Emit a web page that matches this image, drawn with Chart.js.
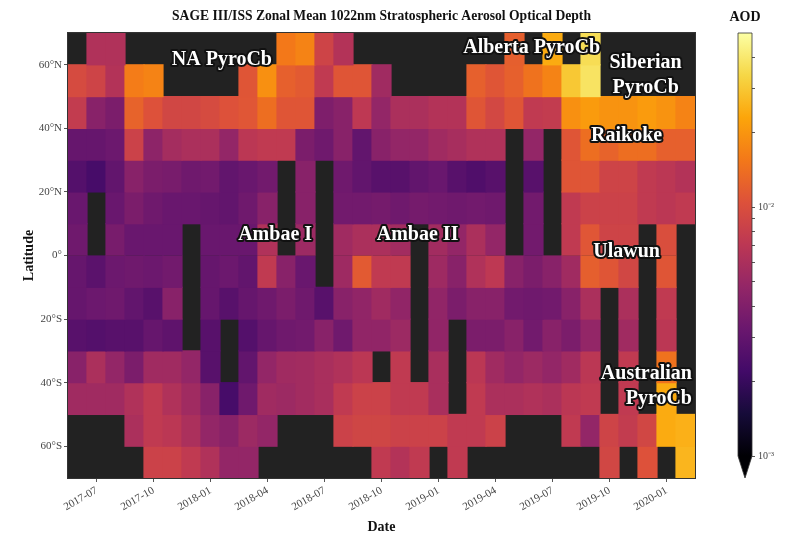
<!DOCTYPE html>
<html>
<head>
<meta charset="utf-8">
<script src="https://cdn.jsdelivr.net/npm/chart.js@4.4.1/dist/chart.umd.min.js"></script>
<style>
  html, body { margin: 0; padding: 0; background: #fff; }
  #wrap { position: relative; width: 794px; height: 548px; }
  #main { position: absolute; left: 0; top: 0; }
  #cbar { position: absolute; left: 700px; top: 0; }
</style>
</head>
<body>
<div id="wrap">
  <canvas id="main" width="794" height="548"></canvas>
  <canvas id="cbar" width="94" height="548"></canvas>
</div>
<script>
// monthly columns
const months = [
  "2017-06", "2017-07", "2017-08", "2017-09", "2017-10", "2017-11", "2017-12",
  "2018-01", "2018-02", "2018-03", "2018-04", "2018-05", "2018-06", "2018-07",
  "2018-08", "2018-09", "2018-10", "2018-11", "2018-12", "2019-01", "2019-02",
  "2019-03", "2019-04", "2019-05", "2019-06", "2019-07", "2019-08", "2019-09",
  "2019-10", "2019-11", "2019-12", "2020-01", "2020-02"
];

// 10 degree latitude bands (top edge of each band)
const latTops = [70, 60, 50, 40, 30, 20, 10, 0, -10, -20, -30, -40, -50, -60];
const latTicks = [-60, -40, -20, 0, 20, 40, 60];

// zonal mean AOD in units of 1e-3, null = no data
const n = null;
const aod65N = [n, 6.3, 6.3, n, n, n, n, n, n, n, n, 15.5, 17, 8.6, 6.5, n, n, n, n, n, n, n, n, 12, n, 24, n, 36, n, n, n, n, n];
const aod55N = [9.5, 8.6, 6.5, 16, 17, n, n, n, n, 10.9, 19, 12.2, 11.5, 7.4, 10.9, 10.9, 5.4, n, n, n, n, 12.2, 10.9, 12.2, 14.5, 17, 30, 38, n, n, n, n, n];
const aod45N = [7.6, 4.3, 3.8, 12.5, 10.5, 9, 9, 9.5, 10.5, 11, 14, 10.9, 10.9, 3.9, 4.3, 7.2, 4.8, 6, 6, 6.5, 6.5, 10.9, 9.2, 10.9, 7.4, 7.6, 19, 21, 19.5, 19.5, 21, 19.5, 17];
const aod35N = [3.1, 3.1, 3.3, 8.4, 4.5, 5.6, 6, 6, 4.8, 7, 7.4, 7.4, 3.8, 3.4, 4.3, 3.0, 4.3, 4.8, 4.8, 5.4, 5.8, 6.3, 6.3, n, 4.8, n, 10.9, 14, 12.5, 14, 14, 12.2, 12.2];
const aod25N = [2.6, 2.3, 3.0, 4.3, 3.8, 3.7, 3.4, 3.5, 3.0, 3.2, 3.5, n, 4.3, n, 3.4, 3.0, 2.7, 2.7, 3.0, 3.2, 2.7, 2.5, 2.7, n, 2.7, n, 10.9, 10.9, 8.6, 8.6, 7.4, 7, 6.5];
const aod15N = [3.2, n, 3.2, 3.8, 3.4, 3.2, 3.2, 3.1, 3.0, 3.4, 4.3, n, 4.3, n, 3.5, 3.5, 3.6, 3.4, 3.6, 3.5, 3.4, 3.5, 3.4, n, 3.5, n, 7.4, 8.4, 8.4, 8.4, 7.4, 7, 7.4];
const aod5N  = [3.4, n, 3.7, 3.2, 3.2, 3.2, n, 3.2, 3.2, 3.2, 6.3, n, 5.2, n, 5.4, 6, 6, 5.5, n, 5.5, 4.8, 6, 4.8, n, 3.5, n, 7.4, 11, 8.6, 8.6, n, 10, n];
const aod5S  = [3.1, 2.8, 3.3, 3.4, 3.3, 3.5, n, 3.1, 3.3, 3.0, 7.4, 4.3, 3.2, n, 5.3, 11.5, 7.4, 7.4, n, 5.3, 4.3, 6.3, 7.2, 4.3, 3.8, 4.3, 5.4, 12, 10.9, 9, n, 10.9, n];
const aod15S = [3.1, 3.3, 3.4, 3.0, 2.7, 4.3, n, 3.1, 2.7, 3.1, 3.4, 3.8, 3.4, 2.7, 4.3, 4.7, 5.4, 4.7, n, 4.7, 3.8, 4.3, 4.3, 3.5, 3.4, 3.5, 4.3, 6, n, 6, n, 7.4, n];
const aod25S = [2.7, 2.6, 2.7, 2.7, 3.1, 2.9, n, 2.7, n, 2.6, 3.1, 3.4, 3.5, 4.3, 3.4, 4.7, 4.7, 5.2, n, 4.7, n, 3.8, 3.8, 4.3, 3.5, 4.3, 3.8, 4.8, n, 5.4, n, 7, n];
const aod35S = [4.3, 6, 4.8, 3.8, 5.4, 5.4, 4.8, 2.7, n, 3.0, 4.8, 5.4, 5.5, 5.9, 6.3, 7, n, 7.4, n, 5.9, n, 7, 5.4, 4.8, 5.2, 4.8, 5.4, 7, n, 7.4, n, 14.5, n];
const aod45S = [5.4, 5.4, 5.4, 6.3, 7.4, 6.3, 5.4, 4.3, 2.3, 3.4, 5.4, 5.2, 5.5, 5.9, 7.4, 8.4, 8.4, 7.4, 7.4, 5.9, n, 7.4, 6, 6, 6.3, 6, 7, 7.4, n, 7.4, n, 24, n];
const aod55S = [n, n, n, 6, 7.4, 7, 6, 4.8, 4.3, 5.2, 4.8, n, n, n, 8.4, 8.8, 8.8, 8.4, 8.4, 8.4, 7.4, 7.4, 8.4, n, n, n, 7.4, 4.8, 8.6, 7.6, 9, 24, 25];
const aod65S = [n, n, n, n, 8.4, 8.4, 7.4, 6.3, 4.8, 4.8, n, n, n, n, n, n, 7.4, 6.5, 7.4, n, 7.4, n, n, n, n, n, n, n, 9, n, 10.5, n, 26];

const bands = [aod65N, aod55N, aod45N, aod35N, aod25N, aod15N, aod5N, aod5S, aod15S, aod25S, aod35S, aod45S, aod55S, aod65S];

const AOD_UNIT = 1e-3;
const AOD_MIN = 1e-3;
const AOD_MAX = 5e-2;
const cbarTicks = [0.001, 0.002, 0.003, 0.004, 0.005, 0.006, 0.007, 0.008, 0.009, 0.01, 0.02, 0.03, 0.04];

// event annotations: month index / latitude of the text anchor
const events = [
  { lines: ["NA PyroCb"], x: 7.6, lat: 61.5, align: "center" },
  { lines: ["Alberta PyroCb"], x: 23.9, lat: 65.3, align: "center" },
  { lines: ["Siberian", "PyroCb"], x: 29.9, lat: 56.6, align: "center" },
  { lines: ["Raikoke"], x: 28.9, lat: 37.6, align: "center" },
  { lines: ["Ambae I"], x: 10.4, lat: 6.5, align: "center" },
  { lines: ["Ambae II"], x: 17.9, lat: 6.5, align: "center" },
  { lines: ["Ulawun"], x: 28.9, lat: 1.1, align: "center" },
  { lines: ["Australian", "PyroCb"], x: 32.34, lat: -41.2, align: "right" }
];

// inferno colormap
const INFERNO = ["#000004", "#160b39", "#420a68", "#6a176e", "#932667", "#bc3754",
                 "#dd513a", "#f37819", "#fca50a", "#f6d746", "#fcffa4"];

function hexRgb(h) {
  return [parseInt(h.slice(1, 3), 16), parseInt(h.slice(3, 5), 16), parseInt(h.slice(5, 7), 16)];
}

function inferno(t) {
  t = Math.max(0, Math.min(1, t));
  const p = t * (INFERNO.length - 1);
  const i = Math.min(Math.floor(p), INFERNO.length - 2);
  const f = p - i;
  const a = hexRgb(INFERNO[i]), b = hexRgb(INFERNO[i + 1]);
  const c = a.map((v, k) => Math.round(v + (b[k] - v) * f));
  return `rgb(${c[0]},${c[1]},${c[2]})`;
}

function aodColor(v) {
  const t = (Math.log10(v * AOD_UNIT) - Math.log10(AOD_MIN)) / (Math.log10(AOD_MAX) - Math.log10(AOD_MIN));
  return inferno(t);
}

Chart.defaults.font.family = "'Liberation Serif', 'Times New Roman', serif";
Chart.defaults.color = "#444";

const SERIF = "'Liberation Serif', 'Times New Roman', serif";

const plotDecor = {
  id: "plotDecor",
  beforeDatasetsDraw(chart) {
    const { ctx, chartArea: a } = chart;
    ctx.save();
    ctx.fillStyle = "#222";
    ctx.fillRect(a.left, a.top, a.width, a.height);
    ctx.restore();
  },
  afterDatasetsDraw(chart) {
    const { ctx, chartArea: a, scales } = chart;
    ctx.save();
    ctx.strokeStyle = "#333";
    ctx.lineWidth = 1;
    ctx.strokeRect(Math.round(a.left) - 0.5, Math.round(a.top) - 0.5, Math.round(a.width) + 1, Math.round(a.height) + 1);

    ctx.font = `bold 20px ${SERIF}`;
    ctx.textBaseline = "middle";
    ctx.lineJoin = "round";
    const lh = 25;
    events.forEach(ev => {
      const x = scales.x.getPixelForValue(ev.x);
      const yc = scales.y.getPixelForValue(ev.lat);
      ctx.textAlign = ev.align;
      ev.lines.forEach((line, i) => {
        const y = yc + (i - (ev.lines.length - 1) / 2) * lh;
        ctx.lineWidth = 4;
        ctx.strokeStyle = "#111";
        ctx.strokeText(line, x, y);
        ctx.fillStyle = "#fff";
        ctx.fillText(line, x, y);
      });
    });
    ctx.restore();
  }
};

const datasets = bands.map((vals, r) => ({
  label: `${latTops[r] - 5}`,
  data: vals.map(v => v == null ? null : [latTops[r] - 10, latTops[r]]),
  backgroundColor: vals.map(v => v == null ? "rgba(0,0,0,0)" : aodColor(v)),
  borderWidth: 0,
  grouped: false,
  barPercentage: 1,
  categoryPercentage: 1,
  inflateAmount: 0.6
}));

new Chart(document.getElementById("main"), {
  type: "bar",
  data: { labels: months, datasets },
  options: {
    responsive: false,
    animation: false,
    devicePixelRatio: 1,
    layout: { padding: { left: 0, right: 99, top: 0, bottom: 0 } },
    plugins: {
      legend: { display: false },
      tooltip: { enabled: false },
      title: {
        display: true,
        fullSize: false,
        text: "SAGE III/ISS Zonal Mean 1022nm Stratospheric Aerosol Optical Depth",
        color: "#111",
        font: { size: 13.6, weight: "bold", family: SERIF },
        padding: { top: 8.5, bottom: 8.2 }
      }
    },
    scales: {
      x: {
        type: "category",
        offset: true,
        afterFit(s) { s.height = 70; },
        grid: { drawOnChartArea: false, offset: false, tickLength: 4, color: "#555" },
        border: { display: false },
        ticks: {
          autoSkip: false,
          minRotation: 30,
          maxRotation: 30,
          padding: 2,
          color: "#444",
          font: { size: 11, family: SERIF },
          callback(value) {
            const m = this.getLabelForValue(value);
            return /-(01|04|07|10)$/.test(m) ? m : null;
          }
        },
        title: {
          display: true,
          text: "Date",
          color: "#111",
          font: { size: 14, weight: "bold", family: SERIF },
          padding: { top: 0, bottom: 12.6 }
        }
      },
      y: {
        type: "linear",
        min: -70,
        max: 70,
        afterFit(s) { s.width = 68; },
        afterBuildTicks(s) { s.ticks = latTicks.map(v => ({ value: v })); },
        grid: { drawOnChartArea: false, tickLength: 4, color: "#555" },
        border: { display: false },
        ticks: {
          padding: 2,
          color: "#444",
          font: { size: 11, family: SERIF },
          callback(v) {
            if (v === 0) return "0°";
            return Math.abs(v) + "°" + (v > 0 ? "N" : "S");
          }
        },
        title: {
          display: true,
          text: "Latitude",
          color: "#111",
          font: { size: 14, weight: "bold", family: SERIF },
          padding: { top: 21, bottom: 0 }
        }
      }
    }
  },
  plugins: [plotDecor]
});

// colorbar
const cbarOutline = {
  id: "cbarOutline",
  afterDatasetsDraw(chart) {
    const { ctx, chartArea: a } = chart;
    const ext = 22;
    const mid = (a.left + a.right) / 2;
    ctx.save();
    ctx.fillStyle = INFERNO[0];
    ctx.beginPath();
    ctx.moveTo(a.left, a.bottom);
    ctx.lineTo(a.right, a.bottom);
    ctx.lineTo(mid, a.bottom + ext);
    ctx.closePath();
    ctx.fill();
    ctx.strokeStyle = "#333";
    ctx.lineWidth = 0.8;
    ctx.beginPath();
    ctx.moveTo(a.left, a.top);
    ctx.lineTo(a.right, a.top);
    ctx.lineTo(a.right, a.bottom);
    ctx.lineTo(mid, a.bottom + ext);
    ctx.lineTo(a.left, a.bottom);
    ctx.closePath();
    ctx.stroke();

    ctx.fillStyle = "#111";
    ctx.font = `bold 14px ${SERIF}`;
    ctx.textAlign = "center";
    ctx.textBaseline = "middle";
    ctx.fillText("AOD", mid, 17);
    ctx.restore();
  }
};

new Chart(document.getElementById("cbar"), {
  type: "bar",
  data: {
    labels: ["AOD"],
    datasets: [{
      data: [[AOD_MIN, AOD_MAX]],
      backgroundColor(c) {
        const area = c.chart.chartArea;
        if (!area) return "#000";
        const g = c.chart.ctx.createLinearGradient(0, area.bottom, 0, area.top);
        INFERNO.forEach((col, i) => g.addColorStop(i / (INFERNO.length - 1), col));
        return g;
      },
      borderWidth: 0,
      barPercentage: 1,
      categoryPercentage: 1
    }]
  },
  options: {
    responsive: false,
    animation: false,
    devicePixelRatio: 1,
    layout: { padding: { left: 38, right: 0, top: 33, bottom: 92 } },
    plugins: {
      legend: { display: false },
      tooltip: { enabled: false },
      title: { display: false }
    },
    scales: {
      x: { display: false },
      y: {
        type: "logarithmic",
        position: "right",
        min: AOD_MIN,
        max: AOD_MAX,
        afterFit(s) { s.width = 42; },
        afterBuildTicks(s) { s.ticks = cbarTicks.map(v => ({ value: v })); },
        grid: { drawOnChartArea: false, tickLength: 3, color: "#555" },
        border: { display: false },
        ticks: {
          padding: 3,
          color: "#444",
          font: { size: 10, family: SERIF },
          callback(v) {
            const e = Math.log10(v);
            if (Math.abs(e - Math.round(e)) > 1e-6) return "";
            return "10" + (Math.round(e) === -2 ? "⁻²" : "⁻³");
          }
        }
      }
    }
  },
  plugins: [cbarOutline]
});
</script>
</body>
</html>
